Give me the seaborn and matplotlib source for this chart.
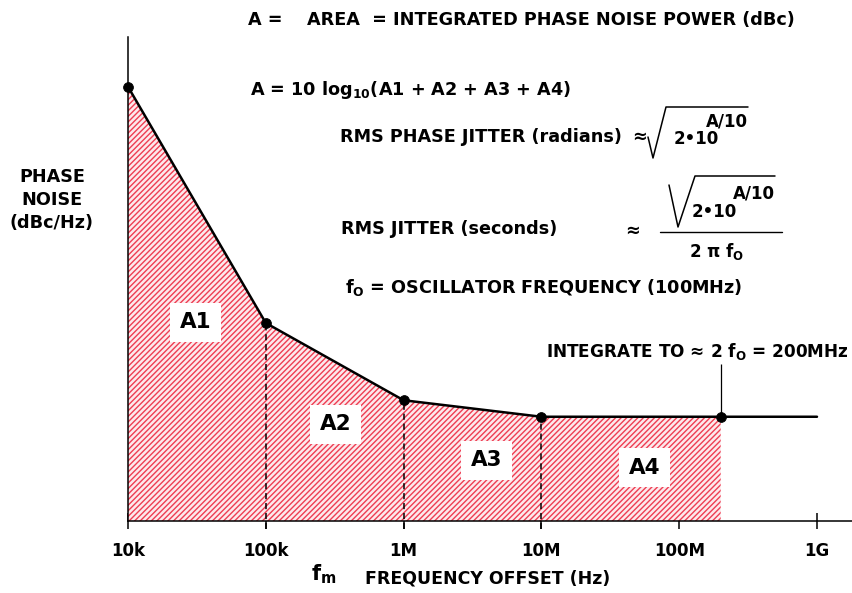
import numpy as np
import pandas as pd
import matplotlib
matplotlib.use("Agg")
import matplotlib.pyplot as plt
from matplotlib.lines import Line2D
import seaborn as sns

# piecewise phase noise profile (dBc/Hz, scale is only illustrative)
freq = [1e4, 1e5, 1e6, 1e7, 2e8, 1e9]
noise = [-92.1, -123.6, -133.9, -136.1, -136.1, -136.1]
n_fill = 5  # integrate up to 200 MHz

tick_pos = [1e4, 1e5, 1e6, 1e7, 1e8, 1e9]
tick_lbl = ["10k", "100k", "1M", "10M", "100M", "1G"]

area_lbl = ["A1", "A2", "A3", "A4"]
area_x = [3.1e4, 3.2e5, 4.0e6, 5.6e7]
area_y = [-123.5, -137.1, -141.9, -142.9]

sns.set_style("white")
plt.rcParams["font.family"] = ["DejaVu Sans"]
plt.rcParams["font.weight"] = "bold"
plt.rcParams["text.color"] = "black"
plt.rcParams["xtick.color"] = "black"
plt.rcParams["xtick.labelcolor"] = "black"
plt.rcParams["mathtext.fontset"] = "custom"
plt.rcParams["mathtext.rm"] = "DejaVu Sans:bold"
plt.rcParams["mathtext.it"] = "DejaVu Sans:bold"
plt.rcParams["mathtext.bf"] = "DejaVu Sans:bold"
plt.rcParams["hatch.linewidth"] = 1.0

W, H = 853, 593
fig = plt.figure(figsize=(W / 100, H / 100), dpi=100)
ax = fig.add_axes([128 / W, 72 / H, 725 / W, 484 / H])

df = pd.DataFrame({"freq": freq, "noise": noise})
ybot = -150

ax.fill_between(df.freq[:n_fill], df.noise[:n_fill], ybot, facecolor="#fde9ec",
                edgecolor="#ee3d52", hatch="//////", linewidth=0, zorder=1)
sns.lineplot(data=df, x="freq", y="noise", ax=ax, color="k", lw=1.8, zorder=3)
sns.scatterplot(data=df.iloc[:n_fill], x="freq", y="noise", ax=ax, color="k",
                s=50, edgecolor="k", zorder=4, clip_on=False)

# dashed drop lines at the break points
ax.vlines(freq[1:4], ybot - 1.1, noise[1:4], colors="k", lw=1.1,
          linestyles=(0, (4, 2.5)), clip_on=False, zorder=2)
# pointer to the 200MHz limit
ax.vlines(freq[4], noise[4], noise[4] + 7, colors="k", lw=0.9, zorder=2)

for lbl, x, y in zip(area_lbl, area_x, area_y):
    ax.text(x, y, lbl, fontsize=15.5, ha="center", va="center", zorder=5,
            bbox=dict(boxstyle="square,pad=0.45", fc="white", ec="none"))

ax.set_xscale("log")
ax.set_xlim(1e4, 10 ** (4 + 725 / 137.8))
ax.set_ylim(ybot, ybot + 484 / 7.5)
ax.set_xticks(tick_pos)
ax.set_xticklabels(tick_lbl)
ax.xaxis.set_minor_locator(matplotlib.ticker.NullLocator())
ax.set_yticks([])
ax.set_xlabel("")
ax.set_ylabel("")
ax.tick_params(axis="x", direction="inout", length=11.5, width=1.1,
               color="k", labelcolor="k", labelsize=12, pad=9.5, bottom=True)
sns.despine(ax=ax)
for s in ["left", "bottom"]:
    ax.spines[s].set_color("k")
    ax.spines[s].set_linewidth(1.1)


def put(x, y, s, size=12.7, ha="left", **kw):
    fig.text(x / W, 1 - y / H, s, fontsize=size, ha=ha, va="center",
             color="k", **kw)


def seg(xs, ys, lw=1.1):
    fig.add_artist(Line2D([x / W for x in xs], [1 - y / H for y in ys],
                          color="k", lw=lw))


put(248, 20, "A =    AREA  = INTEGRATED PHASE NOISE POWER (dBc)")
put(250, 90, "A = 10 log$_{10}$(A1 + A2 + A3 + A4)")

put(340, 137, "RMS PHASE JITTER (radians)")
put(640, 137, "≈", ha="center")
seg([648, 653, 666, 748], [137, 158, 107, 107])
put(674, 139, "2•10", size=12)
put(706, 121, "A/10", size=12)

put(341, 229, "RMS JITTER (seconds)")
put(633, 231, "≈", ha="center")
seg([669, 678, 695, 775], [185, 227, 176, 176])
put(692, 212, "2•10", size=12)
put(733, 193, "A/10", size=12)
seg([660, 782], [232, 232], lw=1.0)
put(717, 252, "2 π f$_O$", ha="center", size=12)

put(345, 288, "f$_O$ = OSCILLATOR FREQUENCY (100MHz)")
put(546, 352, "INTEGRATE TO ≈ 2 f$_O$ = 200MHz", size=12.2)

put(52, 177, "PHASE", ha="center")
put(52, 200, "NOISE", ha="center")
put(52, 223, "(dBc/Hz)", ha="center")

put(311, 574, "f$_m$", size=15)
put(365, 578, "FREQUENCY OFFSET (Hz)", size=12.5)

fig.savefig("out.png", dpi=100)
